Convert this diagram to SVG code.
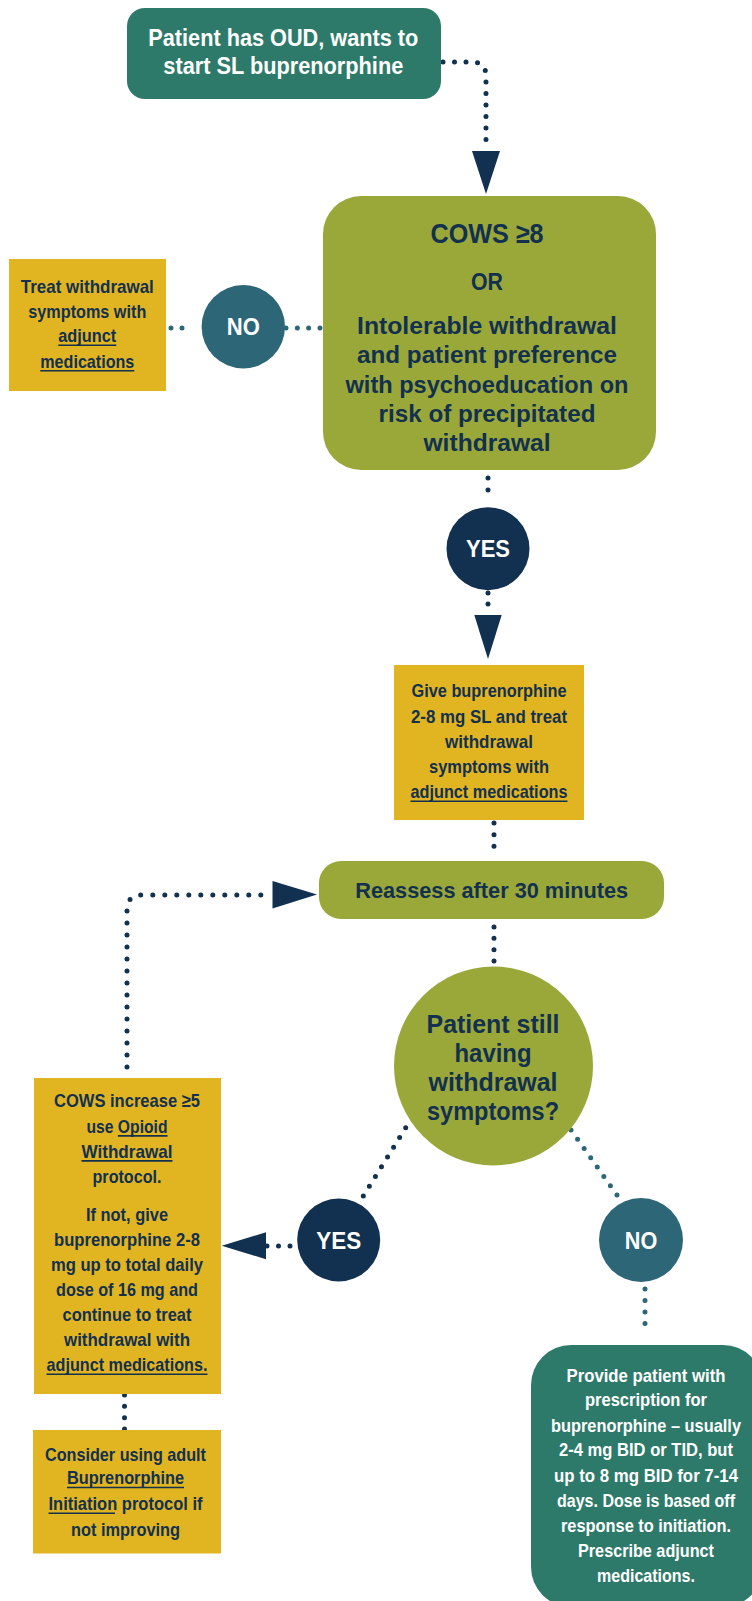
<svg xmlns="http://www.w3.org/2000/svg" width="752" height="1601" viewBox="0 0 752 1601">
<style>
text{font-family:"Liberation Sans",Arial,sans-serif;font-weight:bold;text-anchor:middle}
.w{fill:#ffffff}
.n{fill:#13304F}
.s18{font-size:18.5px}
.s19{font-size:19px}
.s24{font-size:24px}
.s23{font-size:23px}
.s25{font-size:25px}
.ul{stroke:#13304F;stroke-width:1.6}
.dn{fill:none;stroke:#12304F;stroke-width:5;stroke-linecap:round}
.dt{fill:none;stroke:#2C6677;stroke-width:5;stroke-linecap:round}
.ah{fill:#12304F}
.teal{fill:#2E7A6A}
.olive{fill:#9AA83A}
.yel{fill:#E1B522}
.navy{fill:#12304F}
.tb{fill:#2C6677}
</style>
<rect width="752" height="1601" fill="#ffffff"/>
<g id="connectors">
<path class="dn" d="M443 62 H472 Q486 62 486 76 V146" stroke-dasharray="0 11.5"/>
<polygon class="ah" points="472,151 500,151 486,194"/>
<path class="dt" d="M171 328 H193" stroke-dasharray="0 11"/>
<path class="dt" d="M286 328 H320" stroke-dasharray="0 11.33"/>
<path class="dn" d="M488 478 V502" stroke-dasharray="0 12"/>
<path class="dn" d="M488 593 V615" stroke-dasharray="0 11"/>
<polygon class="ah" points="474.3,615 501.7,615 488,659"/>
<path class="dn" d="M494 823 V858" stroke-dasharray="0 11.67"/>
<path class="dn" d="M494 927 V961" stroke-dasharray="0 11.33"/>
<path class="dn" d="M127 1067 V910 Q127 895 142 895 H268" stroke-dasharray="0 12"/>
<polygon class="ah" points="272.5,881 272.5,908.5 317,894.5"/>
<path class="dn" d="M405.7 1127.7 L363.3 1196" stroke-dasharray="0 11.48"/>
<path class="dn" d="M290 1246 H266" stroke-dasharray="0 11.5"/>
<polygon class="ah" points="266,1232.3 266,1259.3 221.7,1245.7"/>
<path class="dt" d="M571 1130 L617 1195" stroke-dasharray="0 11.37"/>
<path class="dt" d="M645 1289 V1335" stroke-dasharray="0 11.5"/>
<path class="dn" d="M124.5 1395 V1429" stroke-dasharray="0 11.33"/>
</g>
<g id="start">
<rect class="teal" x="127" y="8" width="314" height="91" rx="18"/>
<text class="w s23" x="283.3" y="46" textLength="270" lengthAdjust="spacingAndGlyphs">Patient has OUD, wants to</text>
<text class="w s23" x="283.3" y="74" textLength="240" lengthAdjust="spacingAndGlyphs">start SL buprenorphine</text>
</g>
<g id="cows8">
<rect class="olive" x="323" y="196" width="333" height="274" rx="38"/>
<text class="n" style="font-size:28px" x="487" y="243" textLength="113" lengthAdjust="spacingAndGlyphs">COWS ≥8</text>
<text class="n s24" x="487" y="290" textLength="32" lengthAdjust="spacingAndGlyphs">OR</text>
<text class="n s24" x="487" y="334" textLength="260" lengthAdjust="spacingAndGlyphs">Intolerable withdrawal</text>
<text class="n s24" x="487" y="363" textLength="260" lengthAdjust="spacingAndGlyphs">and patient preference</text>
<text class="n s24" x="487" y="392.5" textLength="283" lengthAdjust="spacingAndGlyphs">with psychoeducation on</text>
<text class="n s24" x="487" y="421.5" textLength="217" lengthAdjust="spacingAndGlyphs">risk of precipitated</text>
<text class="n s24" x="487" y="450.5" textLength="127" lengthAdjust="spacingAndGlyphs">withdrawal</text>
</g>
<g id="treat-adjunct">
<rect class="yel" x="9" y="259" width="157" height="132"/>
<text class="n s19" x="87.3" y="293" textLength="133" lengthAdjust="spacingAndGlyphs">Treat withdrawal</text>
<text class="n s19" x="87.3" y="317.5" textLength="118" lengthAdjust="spacingAndGlyphs">symptoms with</text>
<text class="n s19" x="87.3" y="342" textLength="58" lengthAdjust="spacingAndGlyphs">adjunct</text>
<text class="n s19" x="87.3" y="367.5" textLength="94" lengthAdjust="spacingAndGlyphs">medications</text>
<line class="ul" x1="58.3" y1="345.2" x2="116.3" y2="345.2"/>
<line class="ul" x1="40.3" y1="370.7" x2="134.3" y2="370.7"/>
</g>
<g id="no1">
<circle class="tb" cx="243.3" cy="326.7" r="41.7"/>
<text class="w s24" x="243.3" y="335" textLength="33" lengthAdjust="spacingAndGlyphs">NO</text>
</g>
<g id="yes1">
<circle class="navy" cx="488" cy="548.7" r="41.5"/>
<text class="w s24" x="488" y="557.3" textLength="44" lengthAdjust="spacingAndGlyphs">YES</text>
</g>
<g id="give-bup">
<rect class="yel" x="394" y="665" width="190" height="155"/>
<text class="n s19" x="489" y="696.5" textLength="155" lengthAdjust="spacingAndGlyphs">Give buprenorphine</text>
<text class="n s19" x="489" y="722.5" textLength="156" lengthAdjust="spacingAndGlyphs">2-8 mg SL and treat</text>
<text class="n s19" x="489" y="748" textLength="88" lengthAdjust="spacingAndGlyphs">withdrawal</text>
<text class="n s19" x="489" y="772.5" textLength="120" lengthAdjust="spacingAndGlyphs">symptoms with</text>
<text class="n s19" x="489" y="798" textLength="157" lengthAdjust="spacingAndGlyphs">adjunct medications</text>
<line class="ul" x1="410.5" y1="801.2" x2="567.5" y2="801.2"/>
</g>
<g id="reassess">
<rect class="olive" x="319" y="861" width="345" height="58" rx="22"/>
<text class="n" style="font-size:22px" x="491.7" y="897.5" textLength="273" lengthAdjust="spacingAndGlyphs">Reassess after 30 minutes</text>
</g>
<g id="still-withdrawal">
<circle class="olive" cx="493.5" cy="1066" r="99.5"/>
<text class="n s25" x="493" y="1032.5" textLength="133" lengthAdjust="spacingAndGlyphs">Patient still</text>
<text class="n s25" x="493" y="1062" textLength="77" lengthAdjust="spacingAndGlyphs">having</text>
<text class="n s25" x="493" y="1091" textLength="129" lengthAdjust="spacingAndGlyphs">withdrawal</text>
<text class="n s25" x="493" y="1120" textLength="132" lengthAdjust="spacingAndGlyphs">symptoms?</text>
</g>
<g id="yes2">
<circle class="navy" cx="338.7" cy="1240" r="41.5"/>
<text class="w s24" x="338.7" y="1248.5" textLength="45" lengthAdjust="spacingAndGlyphs">YES</text>
</g>
<g id="no2">
<circle class="tb" cx="641" cy="1240" r="42"/>
<text class="w s24" x="641" y="1248.5" textLength="32.5" lengthAdjust="spacingAndGlyphs">NO</text>
</g>
<g id="cows-increase">
<rect class="yel" x="34" y="1078" width="187" height="316"/>
<text class="n s19" x="127" y="1106.7" textLength="146" lengthAdjust="spacingAndGlyphs">COWS increase ≥5</text>
<text class="n s19" x="127" y="1132.7" textLength="81" lengthAdjust="spacingAndGlyphs">use Opioid</text>
<text class="n s19" x="127" y="1157.7" textLength="91" lengthAdjust="spacingAndGlyphs">Withdrawal</text>
<text class="n s19" x="127" y="1182.7" textLength="69" lengthAdjust="spacingAndGlyphs">protocol.</text>
<text class="n s19" x="127" y="1220.7" textLength="82" lengthAdjust="spacingAndGlyphs">If not, give</text>
<text class="n s19" x="127" y="1245.7" textLength="146" lengthAdjust="spacingAndGlyphs">buprenorphine 2-8</text>
<text class="n s19" x="127" y="1270.7" textLength="152" lengthAdjust="spacingAndGlyphs">mg up to total daily</text>
<text class="n s19" x="127" y="1296" textLength="142" lengthAdjust="spacingAndGlyphs">dose of 16 mg and</text>
<text class="n s19" x="127" y="1321" textLength="129" lengthAdjust="spacingAndGlyphs">continue to treat</text>
<text class="n s19" x="127" y="1346" textLength="126" lengthAdjust="spacingAndGlyphs">withdrawal with</text>
<text class="n s19" x="127" y="1371" textLength="161" lengthAdjust="spacingAndGlyphs">adjunct medications.</text>
<line class="ul" x1="117.9" y1="1135.9" x2="167.5" y2="1135.9"/>
<line class="ul" x1="81.5" y1="1160.9" x2="172.5" y2="1160.9"/>
<line class="ul" x1="46.5" y1="1374.2" x2="207.5" y2="1374.2"/>
</g>
<g id="consider-initiation">
<rect class="yel" x="33" y="1430" width="188" height="123.5"/>
<text class="n s19" x="125.5" y="1460.7" textLength="161" lengthAdjust="spacingAndGlyphs">Consider using adult</text>
<text class="n s19" x="125.5" y="1484.3" textLength="117" lengthAdjust="spacingAndGlyphs">Buprenorphine</text>
<text class="n s19" x="125.5" y="1510" textLength="154" lengthAdjust="spacingAndGlyphs">Initiation protocol if</text>
<text class="n s19" x="125.5" y="1536" textLength="109" lengthAdjust="spacingAndGlyphs">not improving</text>
<line class="ul" x1="67" y1="1487.5" x2="184" y2="1487.5"/>
<line class="ul" x1="48.5" y1="1513.2" x2="115" y2="1513.2"/>
</g>
<g id="prescription">
<rect class="teal" x="531" y="1345" width="232" height="262" rx="40"/>
<text class="w s18" x="646" y="1381.7" textLength="159" lengthAdjust="spacingAndGlyphs">Provide patient with</text>
<text class="w s18" x="646" y="1406" textLength="122" lengthAdjust="spacingAndGlyphs">prescription for</text>
<text class="w s18" x="646" y="1431.7" textLength="190" lengthAdjust="spacingAndGlyphs">buprenorphine – usually</text>
<text class="w s18" x="646" y="1456" textLength="174" lengthAdjust="spacingAndGlyphs">2-4 mg BID or TID, but</text>
<text class="w s18" x="646" y="1481.7" textLength="184" lengthAdjust="spacingAndGlyphs">up to 8 mg BID for 7-14</text>
<text class="w s18" x="646" y="1506.7" textLength="178" lengthAdjust="spacingAndGlyphs">days. Dose is based off</text>
<text class="w s18" x="646" y="1531.7" textLength="170" lengthAdjust="spacingAndGlyphs">response to initiation.</text>
<text class="w s18" x="646" y="1556.7" textLength="136" lengthAdjust="spacingAndGlyphs">Prescribe adjunct</text>
<text class="w s18" x="646" y="1581.7" textLength="98" lengthAdjust="spacingAndGlyphs">medications.</text>
</g>
</svg>
